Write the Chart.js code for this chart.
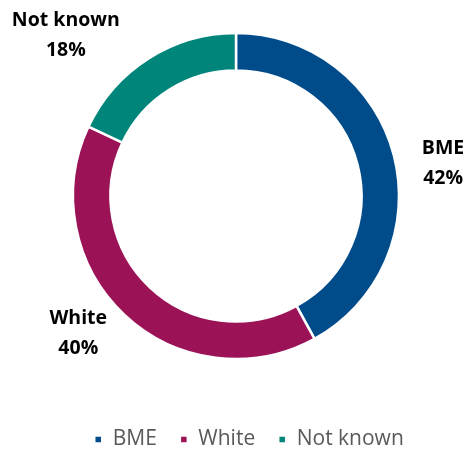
<!DOCTYPE html>
<html>
<head>
<meta charset="utf-8">
<script src="https://cdn.jsdelivr.net/npm/chart.js@4/dist/chart.umd.min.js"></script>
<style>
  html, body { margin: 0; padding: 0; background: #fff; }
  #wrap { width: 469px; height: 450px; }
</style>
</head>
<body>
<div id="wrap"><canvas id="donut-chart"></canvas></div>
<script>
var categories = ["BME", "White", "Not known"];
var shares = [42, 40, 18];
var colours = ["#004C8A", "#9B1356", "#00857A"];

// where each outside label sits: nudge from the slice's middle angle (degrees) and distance from centre
var labelPlace = [
    { shift: 4.8, dist: 210 },
    { shift: 6.1, dist: 208 },
    { shift: -14, dist: 235 }
];

var outsideLabels = {
    id: "outsideLabels",
    afterDatasetsDraw: function(chart) {
        var ctx = chart.ctx;
        var meta = chart.getDatasetMeta(0);
        ctx.save();
        ctx.font = "bold 19.5px 'Open Sans'";
        ctx.fillStyle = "#000";
        ctx.textAlign = "center";
        ctx.textBaseline = "middle";
        meta.data.forEach(function(arc, i) {
            var mid = (arc.startAngle + arc.endAngle) / 2 + labelPlace[i].shift * Math.PI / 180;
            var x = arc.x + Math.cos(mid) * labelPlace[i].dist;
            var y = arc.y + Math.sin(mid) * labelPlace[i].dist;
            ctx.fillText(categories[i], x, y - 13);
            ctx.fillText(shares[i] + "%", x, y + 17);
        });
        ctx.restore();
    }
};

// the legend row sits a little right of the ring's centre
var legendNudge = {
    id: "legendNudge",
    afterLayout: function(chart) {
        chart.legend.left += 13;
        chart.legend.right += 13;
    }
};

var ctx = document.getElementById("donut-chart").getContext("2d");
var donut = new Chart(ctx, {
    type: "doughnut",
    data: {
        labels: categories,
        datasets: [{
            data: shares,
            backgroundColor: colours,
            borderColor: "#fff",
            borderWidth: 2.5,
            radius: 163
        }]
    },
    options: {
        responsive: true,
        maintainAspectRatio: false,
        animation: false,
        cutout: "77%",
        layout: { padding: { top: 0, left: 3, right: 0, bottom: -10 } },
        plugins: {
            tooltip: { enabled: false },
            legend: {
                position: "bottom",
                // empty title only adds a gap above the legend row
                title: { display: true, text: "", padding: 0, font: { size: 11.7 } },
                labels: {
                    boxWidth: 8,
                    boxHeight: 8,
                    padding: 23,
                    color: "#595959",
                    font: { family: "'Open Sans'", size: 21 }
                }
            }
        }
    },
    plugins: [outsideLabels, legendNudge]
});
</script>
</body>
</html>
